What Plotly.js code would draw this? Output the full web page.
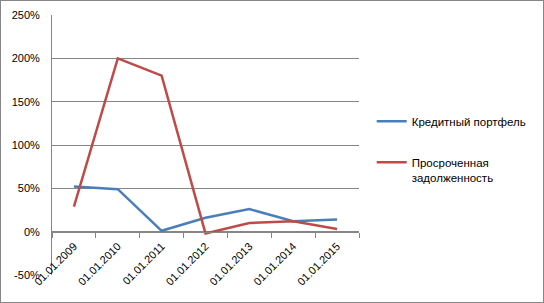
<!DOCTYPE html>
<html>
<head>
<meta charset="utf-8">
<script src="https://cdn.plot.ly/plotly-3.0.1.min.js"></script>
<style>
html,body{margin:0;padding:0;background:#fff;}
#chart{width:542px;height:301px;border:1px solid #868686;}
</style>
</head>
<body>
<div id="chart"></div>
<script>
const categories = ['01.01.2009','01.01.2010','01.01.2011','01.01.2012','01.01.2013','01.01.2014','01.01.2015'];
const creditPortfolio = [0.52, 0.49, 0.01, 0.16, 0.26, 0.12, 0.14];
const overdueDebt = [0.29, 2.00, 1.80, -0.02, 0.10, 0.12, 0.03];
const seriesNames = ['Кредитный портфель', 'Просроченная<br>задолженность'];
const yTickVals = [-0.5, 0, 0.5, 1, 1.5, 2, 2.5];
const yTickText = ['-50%', '0%', '50%', '100%', '150%', '200%', '250%'];

const font = {family: 'Liberation Sans, Arial, sans-serif', size: 11, color: '#000'};
const legendFont = {family: 'Liberation Sans, Arial, sans-serif', size: 11.5, color: '#000'};

const traces = [
  {x: categories, y: creditPortfolio, name: seriesNames[0], type: 'scatter', mode: 'lines',
   line: {color: '#4A7EBB', width: 2.5}, legendgroup: 'a'},
  {x: categories, y: overdueDebt, name: seriesNames[1], type: 'scatter', mode: 'lines',
   line: {color: '#BE4B48', width: 2.5}, legendgroup: 'b'}
];

const layout = {
  width: 542, height: 301,
  margin: {l: 51, r: 183, t: 14, b: 27},
  paper_bgcolor: '#fff', plot_bgcolor: '#fff',
  font: font,
  showlegend: true,
  legend: {x: 1.038, y: 0.645, xanchor: 'left', yanchor: 'top', valign: 'top',
           traceorder: 'grouped', tracegroupgap: 22, font: legendFont, bgcolor: 'rgba(0,0,0,0)'},
  xaxis: {type: 'category', anchor: 'free', position: 1/6,
          showline: true, linecolor: '#868686', linewidth: 1,
          ticks: 'outside', ticklen: 5, tickcolor: '#868686', tickson: 'boundaries',
          tickangle: -45, showgrid: false, zeroline: false, tickfont: font,
          ticklabelstandoff: 3,
          range: [-0.5, 6.5], fixedrange: true},
  yaxis: {range: [-0.5, 2.5], tickvals: yTickVals, ticktext: yTickText,
          showgrid: true, gridcolor: '#868686', gridwidth: 1, zeroline: false,
          showline: true, linecolor: '#868686', linewidth: 1,
          ticks: '', tickfont: font, ticklabelstandoff: 9, fixedrange: true}
};

Plotly.newPlot('chart', traces, layout, {displayModeBar: false, staticPlot: true});
</script>
</body>
</html>
